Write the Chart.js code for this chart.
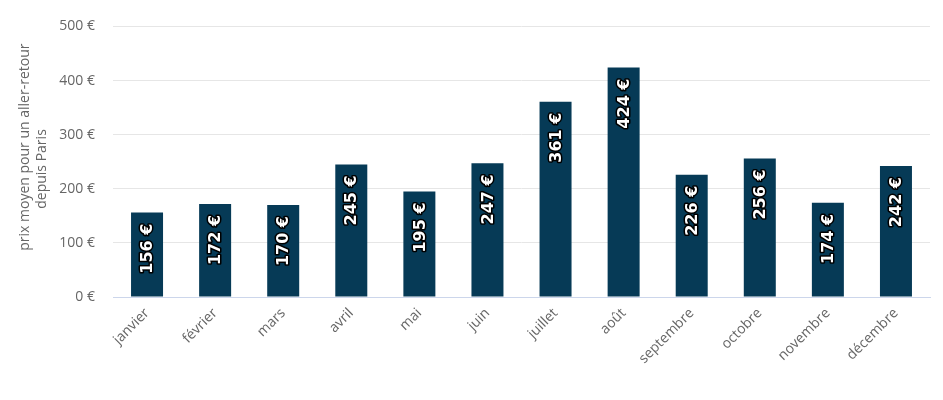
<!DOCTYPE html>
<html>
<head>
<meta charset="utf-8">
<script src="https://cdn.jsdelivr.net/npm/chart.js@4"></script>
<style>
  html, body { margin: 0; padding: 0; background: #fff; }
  #wrap { width: 943px; height: 400px; }
</style>
</head>
<body>
<div id="wrap"><canvas id="mycanvas" width="943" height="400"></canvas></div>
<script>
// months and average round-trip price from Paris
var months = ['janvier', 'février', 'mars', 'avril', 'mai', 'juin', 'juillet', 'août', 'septembre', 'octobre', 'novembre', 'décembre'];
var prices = [156, 172, 170, 245, 195, 247, 361, 424, 226, 256, 174, 242];
var yTicks = [0, 100, 200, 300, 400, 500];

// white rotated labels inside the top of each bar
var barLabels = {
    id: 'barLabels',
    afterDatasetsDraw: function(chart) {
        var ctx = chart.ctx;
        var meta = chart.getDatasetMeta(0);
        ctx.save();
        ctx.font = 'bold 16px "DejaVu Sans", sans-serif';
        ctx.textAlign = 'right';
        ctx.textBaseline = 'middle';
        ctx.lineJoin = 'round';
        meta.data.forEach(function(bar, i) {
            var txt = prices[i] + ' €';
            ctx.save();
            ctx.translate(bar.x, bar.y + 11);
            ctx.rotate(-Math.PI / 2);
            ctx.lineWidth = 3;
            ctx.strokeStyle = '#000000';
            ctx.strokeText(txt, 0, 1);
            ctx.fillStyle = '#ffffff';
            ctx.fillText(txt, 0, 1);
            ctx.restore();
        });
        ctx.restore();
    }
};

var ctx = document.getElementById('mycanvas');
var chart = new Chart(ctx, {
    type: 'bar',
    data: {
        labels: months,
        datasets: [{
            label: 'prix',
            data: prices,
            backgroundColor: '#063a56',
            borderWidth: 0,
            barPercentage: 1,
            categoryPercentage: 0.47
        }]
    },
    options: {
        responsive: false,
        animation: false,
        layout: { padding: { top: 18, right: 13, left: 17, bottom: 0 } },
        plugins: {
            legend: { display: false },
            tooltip: { enabled: false }
        },
        scales: {
            x: {
                grid: { display: false, drawTicks: false },
                border: { color: '#ccd6eb', width: 1 },
                ticks: {
                    color: '#666666',
                    font: { family: '"Open Sans", sans-serif', size: 14 },
                    maxRotation: 45,
                    minRotation: 45,
                    padding: 8
                },
                afterFit: function(scale) { scale.height = 103; }
            },
            y: {
                min: 0,
                max: 500,
                afterBuildTicks: function(scale) {
                    scale.ticks = yTicks.map(function(v) { return { value: v }; });
                },
                grid: { color: '#e6e6e6', drawTicks: false },
                border: { display: false },
                ticks: {
                    color: '#666666',
                    font: { family: '"Open Sans", sans-serif', size: 14 },
                    padding: 18,
                    callback: function(v) { return v + ' €'; }
                },
                title: {
                    display: true,
                    // extra spaces nudge each rotated line like the original
                    text: ['        prix moyen pour un aller-retour', 'depuis Paris    '],
                    color: '#666666',
                    font: { family: '"Open Sans", sans-serif', size: 14 },
                    padding: { top: 0, bottom: 7 }
                },
                afterFit: function(scale) { scale.width = 96; }
            }
        }
    },
    plugins: [barLabels]
});
</script>
</body>
</html>
